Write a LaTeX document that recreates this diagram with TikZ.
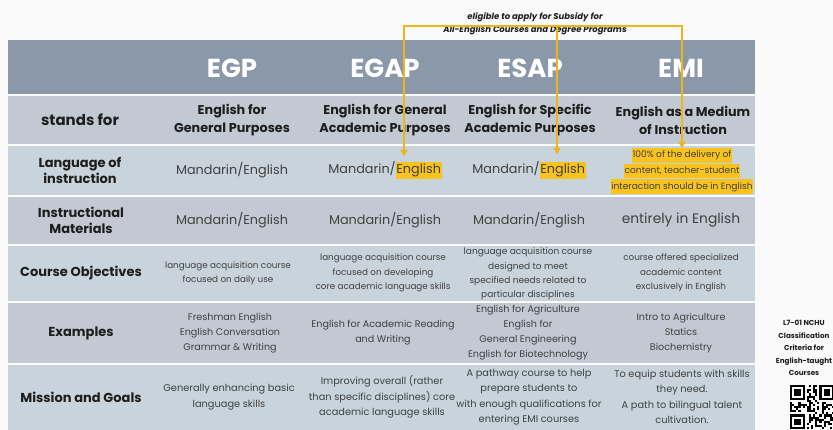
\documentclass[tikz,border=0pt]{standalone}
\usepackage{fontspec}
\setmainfont{Poppins}
\usetikzlibrary{arrows.meta}
\definecolor{hdr}{HTML}{8A98AA}
\definecolor{rowA}{HTML}{C3C9D2}
\definecolor{rowB}{HTML}{C9D3DB}
\definecolor{gold}{HTML}{EFB415}
\definecolor{hl}{HTML}{F9C31F}
\definecolor{txt}{HTML}{1E1E1E}
\definecolor{bg}{HTML}{FAFAFA}
\newcommand\hlx[1]{{\setlength{\fboxsep}{0.6pt}\colorbox{hl}{\strut #1}}}
\tikzset{
  hd/.style={text=white, font=\bfseries\fontsize{26}{30}\selectfont},
  lab/.style={align=center, text=txt, font=\bfseries\fontsize{13}{16}\selectfont},
  stand/.style={align=center, text=txt, font=\bfseries\fontsize{12.8}{18}\selectfont},
  mand/.style={align=center, text=txt!85, font=\fontsize{12.8}{15}\selectfont},
  small/.style={align=center, text=txt!85, font=\fontsize{8.8}{14.2}\selectfont},
  ex/.style={align=center, text=txt!85, font=\fontsize{9.6}{15}\selectfont},
  mis/.style={align=center, text=txt!85, font=\fontsize{9.8}{15.5}\selectfont},
  emi/.style={align=center, text=txt!85, inner sep=0pt, font=\fontsize{9.1}{13.6}\selectfont},
  note/.style={align=center, text=txt, font=\bfseries\itshape\fontsize{8.5}{13.5}\selectfont},
  side/.style={align=center, text=txt, inner sep=1pt, font=\bfseries\fontsize{7.2}{12.5}\selectfont},
  goldline/.style={draw=gold, line width=2.6pt},
  goldarrow/.style={goldline, -{Triangle[width=7pt,length=6pt]}},
  sep/.style={draw=white!90!rowA, line width=1.3pt}
}
\begin{document}
\begin{tikzpicture}[x=1pt,y=-1pt]
\useasboundingbox (0,0) rectangle (833,430);
\fill[bg] (0,0) rectangle (833,430);
% table bands
\fill[hdr] (8,40) rectangle (755,95);
\fill[rowA] (8,95) rectangle (755,145);
\fill[rowB] (8,145) rectangle (755,196);
\fill[rowA] (8,196) rectangle (755,245);
\fill[rowB] (8,245) rectangle (755,302);
\fill[rowA] (8,302) rectangle (755,364);
\fill[rowB] (8,364) rectangle (755,430);
\foreach \yy in {95,145,196,245,302,364} \draw[sep] (8,\yy) -- (755,\yy);
% header
\node[hd] (hEGP) at (232,68) {EGP};
\node[hd] (hEGAP) at (385,68) {EGAP};
\node[hd] (hESAP) at (530,68) {ESAP};
\node[hd] (hEMI) at (681,68) {EMI};
% row labels
\node[lab, font=\bfseries\fontsize{15}{16}\selectfont] (l1) at (80,120) {stands for};
\node[lab] (l2) at (80,170) {Language of\\instruction};
\node[lab] (l3) at (81,220) {Instructional\\Materials};
\node[lab] (l4) at (81,273) {Course Objectives};
\node[lab] (l5) at (81,333) {Examples};
\node[lab] (l6) at (81,397) {Mission and Goals};
% stands for
\node[stand] (s1) at (232,120) {English for\\General Purposes};
\node[stand] (s2) at (385,120) {English for General\\Academic Purposes};
\node[stand] (s3) at (530,120) {English for Specific\\Academic Purposes};
\node[stand] (s4) at (683,120) {English as a Medium\\of Instruction};
% language of instruction
\node[mand] (m1) at (232,170) {Mandarin/English};
\node[mand] (m2) at (385,170) {Mandarin/\hlx{English}};
\node[mand] (m3) at (529,170) {Mandarin/\hlx{English}};
\node[emi] (m4) at (682,171) {\hlx{100\% of the delivery of}\\\hlx{content, teacher-student}\\\hlx{interaction should be in English}};
% materials
\node[mand] (i1) at (232,220) {Mandarin/English};
\node[mand] (i2) at (385,220) {Mandarin/English};
\node[mand] (i3) at (529,220) {Mandarin/English};
\node[mand, font=\fontsize{13.8}{15}\selectfont] (i4) at (681,220) {entirely in English};
% objectives
\node[small] (o1) at (228,273) {language acquisition course\\focused on daily use};
\node[small] (o2) at (383,273) {language acquisition course\\focused on developing\\core academic language skills};
\node[small, font=\fontsize{9}{14.3}\selectfont] (o3) at (528,274) {language acquisition course\\designed to meet\\specified needs related to\\particular disciplines};
\node[small] (o4) at (681,273) {course offered specialized\\academic content\\exclusively in English};
% examples
\node[ex] (e1) at (230,333) {Freshman English\\English Conversation\\Grammar \& Writing};
\node[ex] (e2) at (383,333) {English for Academic Reading\\and Writing};
\node[ex] (e3) at (528,333) {English for Agriculture\\English for\\General Engineering\\English for Biotechnology};
\node[ex] (e4) at (681,333) {Intro to Agriculture\\Statics\\Biochemistry};
% mission
\node[mis] (g1) at (229,397) {Generally enhancing basic\\language skills};
\node[mis] (g2) at (382,397) {Improving overall (rather\\than specific disciplines) core\\academic language skills};
\node[mis] (g3) at (529,397) {A pathway course to help\\prepare students to\\with enough qualifications for\\entering EMI courses};
\node[mis] (g4) at (682,397) {To equip students with skills\\they need.\\A path to bilingual talent\\cultivation.};
% note above
\node[note] (n) at (535,24) {eligible to apply for Subsidy for\\All-English Courses and Degree Programs};
% bracket and arrows
\coordinate (b1) at (404,26);
\coordinate (b2) at (557,26);
\coordinate (b3) at (682,26);
\coordinate (t1) at (404,156);
\coordinate (t2) at (557,154);
\coordinate (t3) at (682,148);
\draw[goldline] ([xshift=-1.3pt]b1) -- ([xshift=1.3pt]b3);
\draw[goldarrow] (b1) -- (t1);
\draw[goldarrow] (b2) -- (t2);
\draw[goldarrow] (b3) -- (t3);
% side label
\node[side] (sd) at (804,348) {L7-01 NCHU\\Classification\\Criteria for\\English-taught\\Courses};
% QR code
\def\m{2.1}
\pgfmathsetseed{4242}
\foreach \i in {0,...,20}{
  \foreach \j in {0,...,20}{
    \pgfmathtruncatemacro\inf{((\i<8)&&(\j<8)) || ((\i>12)&&(\j<8)) || ((\i<8)&&(\j>12))}
    \pgfmathsetmacro\r{rnd}
    \ifnum\inf=0
      \ifdim\r pt<0.5pt
        \fill[black] ({790+\i*\m},{385+\j*\m}) rectangle ++(\m,\m);
      \fi
    \fi
  }
}
\foreach \ox/\oy in {0/0,14/0,0/14}{
  \fill[black] ({790+\ox*\m},{385+\oy*\m}) rectangle ++({7*\m},{7*\m});
  \fill[white] ({790+(\ox+1)*\m},{385+(\oy+1)*\m}) rectangle ++({5*\m},{5*\m});
  \fill[black] ({790+(\ox+2)*\m},{385+(\oy+2)*\m}) rectangle ++({3*\m},{3*\m});
}
\end{tikzpicture}
\end{document}
